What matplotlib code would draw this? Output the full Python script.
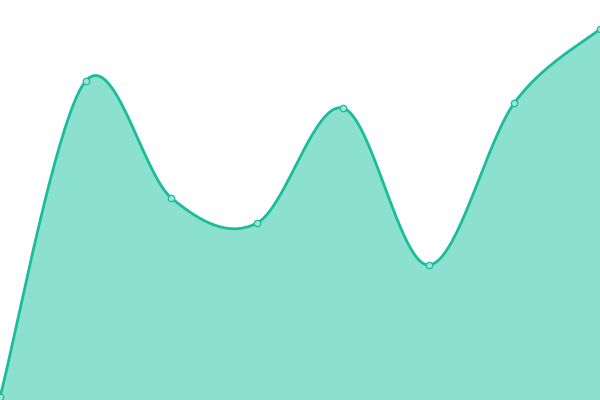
import numpy as np
import matplotlib
matplotlib.use("Agg")
import matplotlib.pyplot as plt

# series values (chart units, 0 = bottom edge, 400 = top edge)
x_vals = [0, 1, 2, 3, 4, 5, 6, 7]
y_vals = [3, 319, 202, 177, 292, 135, 297, 371]

line_color = "#1abc9c"
fill_color = "#8be0d0"
marker_fill = "#9ce6d8"


def cardinal(xs, ys, steps=40):
    # cardinal spline through the points (tension 0 -> catmull-rom)
    px = [xs[0]] + list(xs) + [xs[-1]]
    py = [ys[0]] + list(ys) + [ys[-1]]
    out_x, out_y = [], []
    for i in range(1, len(px) - 2):
        x0, x1, x2, x3 = px[i - 1], px[i], px[i + 1], px[i + 2]
        y0, y1, y2, y3 = py[i - 1], py[i], py[i + 1], py[i + 2]
        # bezier control points
        c1x, c1y = x1 + (x2 - x0) / 6, y1 + (y2 - y0) / 6
        c2x, c2y = x2 - (x3 - x1) / 6, y2 - (y3 - y1) / 6
        t = np.linspace(0, 1, steps, endpoint=False)
        a, b, c, d = (1 - t) ** 3, 3 * t * (1 - t) ** 2, 3 * t ** 2 * (1 - t), t ** 3
        out_x.extend(a * x1 + b * c1x + c * c2x + d * x2)
        out_y.extend(a * y1 + b * c1y + c * c2y + d * y2)
    out_x.append(xs[-1])
    out_y.append(ys[-1])
    return np.array(out_x), np.array(out_y)


fig = plt.figure(figsize=(6, 4), dpi=100)
ax = fig.add_axes([0, 0, 1, 1])

sx, sy = cardinal(x_vals, y_vals)
ax.fill_between(sx, sy, 0, color=fill_color, linewidth=0)
ax.plot(sx, sy, color=line_color, linewidth=2.0, solid_capstyle="round")
ax.plot(x_vals, y_vals, "o", markersize=4.6, markerfacecolor=marker_fill,
        markeredgecolor=line_color, markeredgewidth=0.9, clip_on=False)

ax.set_xlim(0, 7)
ax.set_ylim(0, 400)
ax.axis("off")

fig.savefig("out.png", dpi=100)
plt.close(fig)
